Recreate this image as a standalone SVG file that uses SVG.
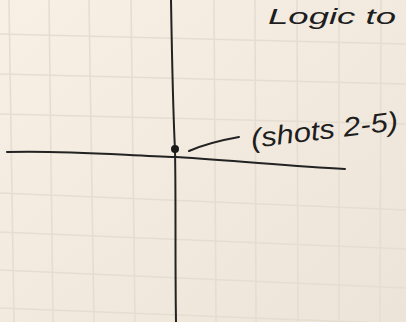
<svg xmlns="http://www.w3.org/2000/svg" width="406" height="322" viewBox="0 0 406 322">
<style>
.grid line{stroke:#e6ddd1;stroke-width:1.6}
.ink{fill:none;stroke:#222;stroke-width:2;stroke-linecap:round}
.hand{font-family:"Liberation Sans","DejaVu Sans",sans-serif;font-style:italic;fill:#1e1e1e}
</style>
<defs>
<linearGradient id="paper" x1="0" y1="0" x2="1" y2="1">
<stop offset="0" stop-color="#f8f0e5"/>
<stop offset="1" stop-color="#ece4d9"/>
</linearGradient>
</defs>
<rect width="406" height="322" fill="url(#paper)"/>
<g class="grid">
<line x1="9" y1="0" x2="14" y2="322"/>
<line x1="49" y1="0" x2="53" y2="322"/>
<line x1="89" y1="0" x2="94" y2="322"/>
<line x1="131" y1="0" x2="135" y2="322"/>
<line x1="214" y1="0" x2="216" y2="322"/>
<line x1="255" y1="0" x2="256" y2="322"/>
<line x1="297" y1="0" x2="298" y2="322"/>
<line x1="339" y1="0" x2="339" y2="322"/>
<line x1="381" y1="0" x2="380" y2="322"/>
<line x1="0" y1="34" x2="406" y2="44"/>
<line x1="0" y1="74" x2="406" y2="84"/>
<line x1="0" y1="114" x2="406" y2="124"/>
<line x1="0" y1="193" x2="406" y2="210"/>
<line x1="0" y1="232" x2="406" y2="249"/>
<line x1="0" y1="270" x2="406" y2="288"/>
<line x1="0" y1="308" x2="406" y2="324"/>
</g>
<g id="axes">
<path class="ink" d="M171 0 C172 60 173 110 175 150 C176 200 175 260 176 322"/>
<path class="ink" d="M7 152 C60 150 120 155 176 157 C240 161 290 166 345 169"/>
</g>
<g id="point">
<circle cx="175" cy="149" r="4" fill="#1a1a1a"/>
</g>
<g id="connectors">
<path class="ink" d="M189 151 C205 144 222 140 239 137" stroke-width="1.8"/>
</g>
<g id="label">
<text class="hand" x="252" y="148" font-size="27" textLength="148" lengthAdjust="spacingAndGlyphs" transform="rotate(-7 252 148)">(shots 2-5)</text>
</g>
<g id="title">
<text class="hand" x="268" y="24" font-size="22" textLength="128" lengthAdjust="spacingAndGlyphs">Logic to</text>
</g>
</svg>
